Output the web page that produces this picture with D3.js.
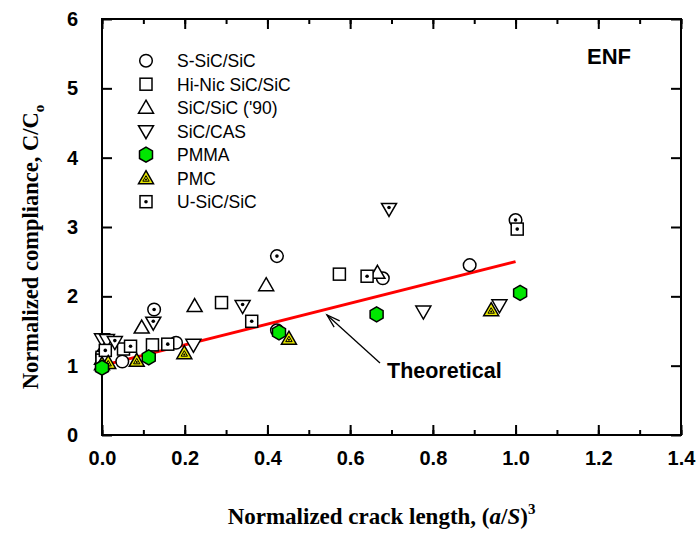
<!DOCTYPE html>
<html><head><meta charset="utf-8">
<script src="https://cdn.jsdelivr.net/npm/d3@7"></script>
<style>body{margin:0;background:#fff;} svg{display:block;}</style>
</head><body>
<svg id="chart" width="698" height="533"></svg>
<script>
// ---- data ----
const xTicks = [0.0, 0.2, 0.4, 0.6, 0.8, 1.0, 1.2, 1.4];
const yTicks = [0, 1, 2, 3, 4, 5, 6];
const legendNames = ["S-SiC/SiC", "Hi-Nic SiC/SiC", "SiC/SiC ('90)", "SiC/CAS", "PMMA", "PMC", "U-SiC/SiC"];

const sSiC_x = [0.0, 0.049, 0.179, 0.423, 0.679, 0.889];
const sSiC_y = [1.15, 1.06, 1.33, 1.51, 2.26, 2.45];
const sSiCdot_x = [0.005, 0.126, 0.423, 1.0];
const sSiCdot_y = [1.19, 1.81, 2.58, 3.10];
const hiNic_x = [0.0, 0.052, 0.122, 0.289, 0.574];
const hiNic_y = [1.12, 1.24, 1.30, 1.91, 2.32];
const sic90_x = [0.0, 0.096, 0.224, 0.397, 0.666];
const sic90_y = [1.10, 1.55, 1.86, 2.16, 2.34];
const cas_x = [0.0, 0.012, 0.221, 0.777, 0.961];
const cas_y = [1.38, 1.37, 1.30, 1.78, 1.87];
const casDot_x = [0.031, 0.124, 0.340, 0.694];
const casDot_y = [1.34, 1.62, 1.86, 3.26];
const pmma_x = [0.0, 0.113, 0.428, 0.664, 1.011];
const pmma_y = [0.97, 1.12, 1.48, 1.74, 2.05];
const pmc_x = [0.0, 0.015, 0.084, 0.199, 0.452, 0.941];
const pmc_y = [1.02, 1.04, 1.07, 1.18, 1.39, 1.80];
const uSiC_x = [0.0, 0.008, 0.069, 0.159, 0.362, 0.641, 1.004];
const uSiC_y = [1.08, 1.22, 1.28, 1.31, 1.64, 2.29, 2.97];

const theoryX = [0.0, 1.0];
const theoryY = [1.0, 2.5];

// ---- layout ----
const svg = d3.select("#chart");
const L = 102, R = 681, T = 19, B = 435;
const x = d3.scaleLinear().domain([0, 1.4]).range([L, R]);
const y = d3.scaleLinear().domain([0, 6]).range([B, T]);

// frame
svg.append("rect").attr("x", L).attr("y", T).attr("width", R - L).attr("height", B - T)
  .attr("fill", "none").attr("stroke", "#000").attr("stroke-width", 2);

// axes with inward ticks
const xMinor = d3.range(0, 15).map(i => i / 10);
function tickAxis(gen, tf) { return svg.append("g").attr("transform", tf).call(gen); }
const axStyle = g => { g.select(".domain").remove(); g.selectAll("line").attr("stroke", "#000").attr("stroke-width", 2); };

const gb = tickAxis(d3.axisBottom(x).tickValues(xTicks).tickSize(-10).tickPadding(20).tickFormat(d3.format(".1f")), `translate(0,${B})`);
axStyle(gb);
gb.selectAll("text").attr("font-family", "Arial, Liberation Sans, sans-serif").attr("font-weight", "bold").attr("font-size", 20).attr("fill", "#000").attr("dy", "0.5em");
const gbm = tickAxis(d3.axisBottom(x).tickValues(xMinor).tickSize(-5).tickFormat(""), `translate(0,${B})`); axStyle(gbm);
const gt = tickAxis(d3.axisTop(x).tickValues(xTicks).tickSize(-10).tickFormat(""), `translate(0,${T})`); axStyle(gt);
const gtm = tickAxis(d3.axisTop(x).tickValues(xMinor).tickSize(-5).tickFormat(""), `translate(0,${T})`); axStyle(gtm);
const gl = tickAxis(d3.axisLeft(y).tickValues(yTicks).tickSize(-10).tickPadding(24).tickFormat(d3.format("d")), `translate(${L},0)`);
axStyle(gl);
gl.selectAll("text").attr("font-family", "Arial, Liberation Sans, sans-serif").attr("font-weight", "bold").attr("font-size", 20).attr("fill", "#000");
const gr = tickAxis(d3.axisRight(y).tickValues(yTicks).tickSize(-10).tickFormat(""), `translate(${R},0)`); axStyle(gr);

// theoretical line
svg.append("line").attr("x1", x(theoryX[0])).attr("y1", y(theoryY[0])).attr("x2", x(theoryX[1])).attr("y2", y(theoryY[1]))
  .attr("stroke", "#ff0000").attr("stroke-width", 3);

// markers
function marker(g, type, cx, cy, dot) {
  const sw = 1.5;
  if (type === "circle") {
    g.append("circle").attr("cx", cx).attr("cy", cy).attr("r", 6.3).attr("fill", "#fff").attr("stroke", "#000").attr("stroke-width", sw);
  } else if (type === "square") {
    g.append("rect").attr("x", cx - 6).attr("y", cy - 6).attr("width", 12).attr("height", 12).attr("fill", "#fff").attr("stroke", "#000").attr("stroke-width", sw);
  } else if (type === "tri") {
    g.append("path").attr("d", `M${cx},${cy - 7.5}L${cx + 7.5},${cy + 5.5}L${cx - 7.5},${cy + 5.5}Z`).attr("fill", "#fff").attr("stroke", "#000").attr("stroke-width", sw);
  } else if (type === "inv") {
    g.append("path").attr("d", `M${cx},${cy + 7.5}L${cx + 7.5},${cy - 5.5}L${cx - 7.5},${cy - 5.5}Z`).attr("fill", "#fff").attr("stroke", "#000").attr("stroke-width", sw);
  } else if (type === "hex") {
    const r = 7.5;
    const pts = d3.range(6).map(i => { const a = Math.PI / 3 * i - Math.PI / 2; return [cx + r * Math.cos(a), cy + r * Math.sin(a)]; });
    g.append("path").attr("d", "M" + pts.map(p => p.join(",")).join("L") + "Z").attr("fill", "#00e600").attr("stroke", "#000").attr("stroke-width", sw);
  } else if (type === "pmc") {
    g.append("path").attr("d", `M${cx},${cy - 7.5}L${cx + 7.5},${cy + 5.5}L${cx - 7.5},${cy + 5.5}Z`).attr("fill", "#e6e600").attr("stroke", "#000").attr("stroke-width", sw);
    g.append("path").attr("d", `M${cx},${cy - 2.5}L${cx + 3.2},${cy + 3}L${cx - 3.2},${cy + 3}Z`).attr("fill", "none").attr("stroke", "#000").attr("stroke-width", 1);
    g.append("circle").attr("cx", cx).attr("cy", cy + 1.2).attr("r", 1).attr("fill", "#000");
  }
  if (dot) {
    const dy = type === "inv" ? -1.5 : 0;
    g.append("circle").attr("cx", cx).attr("cy", cy + dy).attr("r", 1.8).attr("fill", "#000");
  }
}

const seriesList = [
  { xs: sSiC_x, ys: sSiC_y, type: "circle", dot: false },
  { xs: sSiCdot_x, ys: sSiCdot_y, type: "circle", dot: true },
  { xs: hiNic_x, ys: hiNic_y, type: "square", dot: false },
  { xs: sic90_x, ys: sic90_y, type: "tri", dot: false },
  { xs: cas_x, ys: cas_y, type: "inv", dot: false },
  { xs: casDot_x, ys: casDot_y, type: "inv", dot: true },
  { xs: uSiC_x, ys: uSiC_y, type: "square", dot: true },
  { xs: pmc_x, ys: pmc_y, type: "pmc", dot: false },
  { xs: pmma_x, ys: pmma_y, type: "hex", dot: false }
];
const gm = svg.append("g");
seriesList.forEach(s => s.xs.forEach((xv, i) => marker(gm, s.type, x(xv), y(s.ys[i]), s.dot)));

// legend
const legTypes = [["circle", false], ["square", false], ["tri", false], ["inv", false], ["hex", false], ["pmc", false], ["square", true]];
const gLeg = svg.append("g");
legendNames.forEach((n, i) => {
  const ly = 60.7 + i * 23.5;
  marker(gLeg, legTypes[i][0], 146, ly, legTypes[i][1]);
  gLeg.append("text").attr("x", 177).attr("y", ly).attr("dy", "0.36em")
    .attr("font-family", "Arial, Liberation Sans, sans-serif").attr("font-size", 17.5).attr("fill", "#000").text(n);
});

// ENF label
svg.append("text").attr("x", 587).attr("y", 64).attr("font-family", "Arial, Liberation Sans, sans-serif")
  .attr("font-weight", "bold").attr("font-size", 22).text("ENF");

// Theoretical annotation with arrow
svg.append("line").attr("x1", 380).attr("y1", 363).attr("x2", 327).attr("y2", 315).attr("stroke", "#000").attr("stroke-width", 1.3);
(function () {
  const ang = Math.atan2(363 - 315, 380 - 327);
  const hl = 14, ha = 0.3;
  const p1 = [327 + hl * Math.cos(ang + ha), 315 + hl * Math.sin(ang + ha)];
  const p2 = [327 + hl * Math.cos(ang - ha), 315 + hl * Math.sin(ang - ha)];
  svg.append("path").attr("d", `M${p1}L327,315L${p2}`).attr("fill", "none").attr("stroke", "#000").attr("stroke-width", 1.3);
})();
svg.append("text").attr("x", 387).attr("y", 378).attr("font-family", "Arial, Liberation Sans, sans-serif")
  .attr("font-weight", "bold").attr("font-size", 21.5).text("Theoretical");

// axis titles
const xt = svg.append("text").attr("x", (L + R) / 2 - 10).attr("y", 524).attr("text-anchor", "middle")
  .attr("font-family", "Times New Roman, Liberation Serif, serif").attr("font-weight", "bold").attr("font-size", 23);
xt.append("tspan").text("Normalized crack length, (");
xt.append("tspan").attr("font-style", "italic").text("a");
xt.append("tspan").text("/");
xt.append("tspan").attr("font-style", "italic").text("S");
xt.append("tspan").text(")");
xt.append("tspan").attr("font-size", 15).attr("dy", -10).text("3");

const yt = svg.append("text").attr("transform", `translate(38,${(T + B) / 2 + 20}) rotate(-90)`).attr("text-anchor", "middle")
  .attr("font-family", "Times New Roman, Liberation Serif, serif").attr("font-weight", "bold").attr("font-size", 22.5);
yt.append("tspan").text("Normalized compliance, C/C");
yt.append("tspan").attr("font-size", 15).attr("dy", 6).text("o");
</script>
</body></html>
